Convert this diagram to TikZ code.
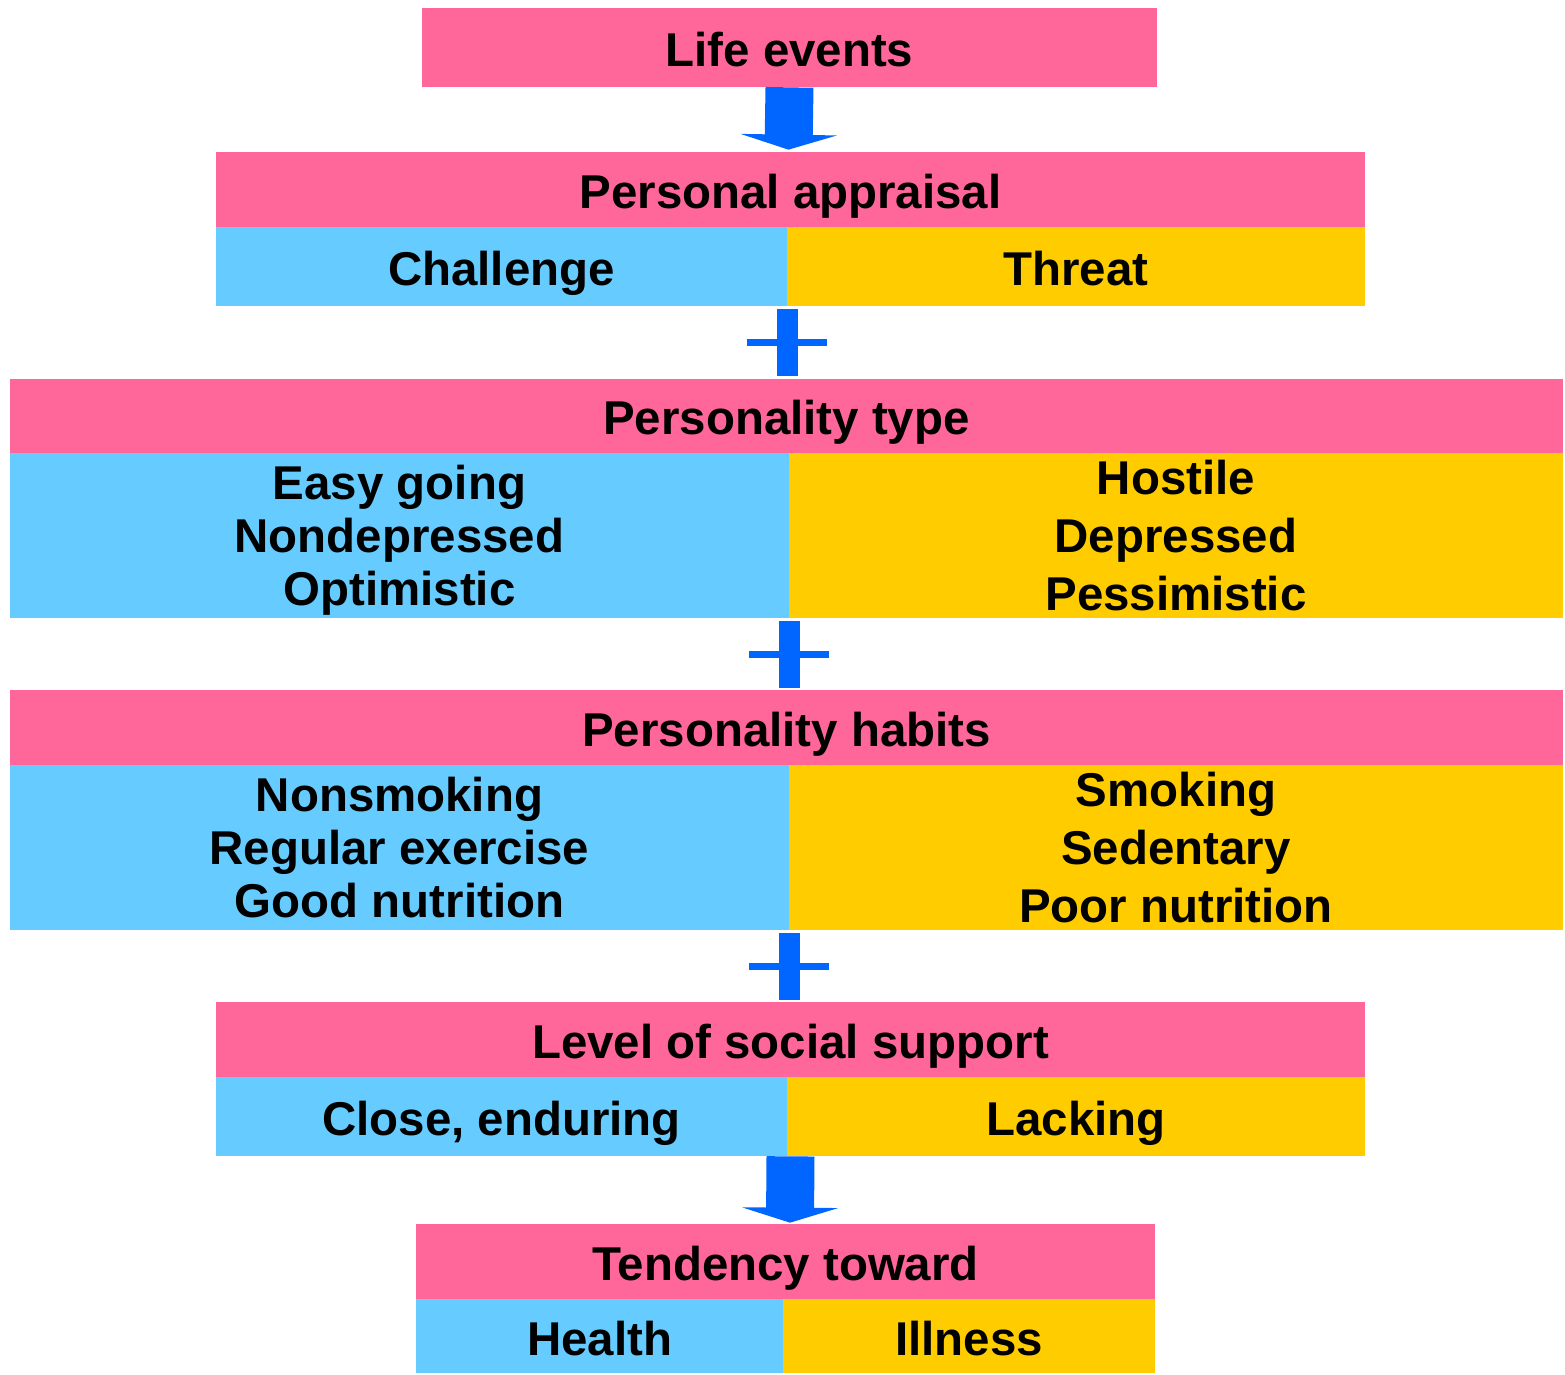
\documentclass[tikz,border=0pt]{standalone}
\usepackage{fontspec}
\setmainfont{Liberation Sans}
\usepackage{tikz}
\usetikzlibrary{arrows.meta, positioning, calc}
\definecolor{headpink}{RGB}{255,102,153}
\definecolor{goodblue}{RGB}{102,204,255}
\definecolor{badyellow}{RGB}{255,204,0}
\definecolor{flowblue}{RGB}{0,102,255}

\begin{document}
\begin{tikzpicture}[x=0.02cm, y=-0.02cm,
    every node/.style={inner sep=0pt, font=\fontsize{27}{30}\selectfont\bfseries, align=center},
    oneline/.style={text height=23pt, text depth=1.4pt},
    headbox/.style={fill=headpink, minimum height=1.5cm, oneline},
    goodbox/.style={fill=goodblue},
    badbox/.style={fill=badyellow},
    flow/.style={flowblue, line width=0.96cm, -{Triangle[width=1.92cm, length=0.3cm]}},
    plussign/.pic={
      \fill[flowblue] (-10.5,-33.5) rectangle (10.5,33.5);
      \fill[flowblue] (-40,-3.5) rectangle (40,3.5);
    }]
  \useasboundingbox (0,0) rectangle (1565,1374);

  % Life events
  \node[headbox, minimum width=14.7cm, minimum height=1.58cm] (life) at (789.5,47.5) {Life events};

  % Personal appraisal
  \node[headbox, minimum width=22.98cm] (apphead) at (790.5,189.5) {Personal appraisal};
  \node[goodbox, oneline, minimum width=11.42cm, minimum height=1.58cm] (challenge) at (501.5,266.5) {Challenge};
  \node[badbox, oneline, minimum width=11.56cm, minimum height=1.58cm] (threat) at (1076,266.5) {Threat};

  % Personality type
  \node[headbox, minimum width=31.06cm, minimum height=1.48cm] (typehead) at (786.5,416) {Personality type};
  \node[goodbox, text depth=0pt, minimum width=15.58cm, minimum height=3.3cm] (easy) at (399.5,535.5)
    {Easy going\\Nondepressed\\Optimistic};
  \node[badbox, minimum width=15.48cm, minimum height=3.3cm,
    font=\fontsize{27}{33}\selectfont\bfseries] (hostile) at (1176,535.5)
    {Hostile\\Depressed\\Pessimistic};

  % Personality habits
  \node[headbox, minimum width=31.06cm] (habitshead) at (786.5,727.5) {Personality habits};
  \node[goodbox, text depth=0pt, minimum width=15.58cm, minimum height=3.3cm] (nonsmoking) at (399.5,847.5)
    {Nonsmoking\\Regular exercise\\Good nutrition};
  \node[badbox, minimum width=15.48cm, minimum height=3.3cm,
    font=\fontsize{27}{33}\selectfont\bfseries] (smoking) at (1176,847.5)
    {Smoking\\Sedentary\\Poor nutrition};

  % Level of social support
  \node[headbox, minimum width=22.98cm] (supporthead) at (790.5,1039.5) {Level of social support};
  \node[goodbox, oneline, minimum width=11.42cm, minimum height=1.58cm] (close) at (501.5,1116.5) {Close, enduring};
  \node[badbox, oneline, minimum width=11.56cm, minimum height=1.58cm] (lacking) at (1076,1116.5) {Lacking};

  % Tendency toward
  \node[headbox, minimum width=14.78cm] (tendhead) at (785.5,1261.5) {Tendency toward};
  \node[goodbox, oneline, minimum width=7.34cm, minimum height=1.48cm] (health) at (599.5,1336) {Health};
  \node[badbox, oneline, minimum width=7.44cm, minimum height=1.48cm] (illness) at (969,1336) {Illness};

  % Arrows and plus signs
  \draw[flow] (life.south) -- ($(apphead.north)+(-2,-2)$);
  \draw[flow] ($(supporthead.south)+(0,79)$) -- ($(tendhead.north)+(4.5,-1)$);
  \pic at ($(challenge.south east)!.5!(challenge.south east |- typehead.north)$) {plussign};
  \pic at ($(easy.south east)!.5!(easy.south east |- habitshead.north)$) {plussign};
  \pic at ($(nonsmoking.south east)!.5!(nonsmoking.south east |- supporthead.north)$) {plussign};
\end{tikzpicture}
\end{document}
